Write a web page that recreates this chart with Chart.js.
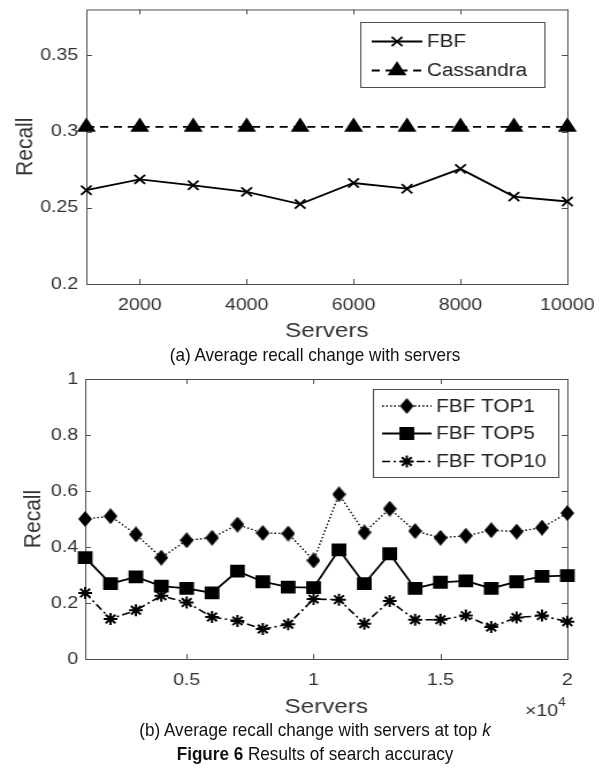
<!DOCTYPE html>
<html>
<head>
<meta charset="utf-8">
<script src="https://cdn.jsdelivr.net/npm/chart.js@4.4.0/dist/chart.umd.min.js"></script>
<style>
  html, body { margin: 0; padding: 0; background: #fff; }
  body { width: 603px; height: 769px; position: relative; overflow: hidden; font-family: 'Liberation Sans', Arial, sans-serif; color: #111; }
  /* the source figure is stretched horizontally */
  .wrap { position: absolute; left: 0; transform: scaleX(1.1508); transform-origin: 0 0; }
  .cap { position: absolute; left: 0; width: 630px; text-align: center; font-size: 19px; white-space: nowrap; line-height: 22px;
         transform: scaleX(0.9); transform-origin: 315px 0; }
</style>
</head>
<body>
<div class="wrap" style="top:0"><canvas id="chartA" width="524" height="345"></canvas></div>
<div class="cap" style="top:344px">(a) Average recall change with servers</div>
<div class="wrap" style="top:365px"><canvas id="chartB" width="524" height="355"></canvas></div>
<div class="cap" style="top:719px">(b) Average recall change with servers at top <i>k</i></div>
<div class="cap" style="top:743px"><b>Figure 6</b> Results of search accuracy</div>
<script>
// (a) recall vs servers
const serversA = [1000, 2000, 3000, 4000, 5000, 6000, 7000, 8000, 9000, 10000];
const fbfRecall = [0.2615, 0.2686, 0.2647, 0.2604, 0.2524, 0.2662, 0.2625, 0.2755, 0.2573, 0.2541];
const cassandraRecall = [0.303, 0.303, 0.303, 0.303, 0.303, 0.303, 0.303, 0.303, 0.303, 0.303];
const xTicksA = [2000, 4000, 6000, 8000, 10000];
const yTicksA = [0.2, 0.25, 0.3, 0.35];

// (b) recall vs servers at top k
const serversB = [1000, 2000, 3000, 4000, 5000, 6000, 7000, 8000, 9000, 10000,
                  11000, 12000, 13000, 14000, 15000, 16000, 17000, 18000, 19000, 20000];
const top1 = [0.500, 0.510, 0.445, 0.362, 0.424, 0.433, 0.480, 0.450, 0.448, 0.352,
              0.588, 0.452, 0.537, 0.457, 0.433, 0.440, 0.460, 0.455, 0.469, 0.521];
const top5 = [0.362, 0.269, 0.293, 0.260, 0.252, 0.236, 0.314, 0.276, 0.257, 0.255,
              0.390, 0.269, 0.376, 0.252, 0.274, 0.279, 0.252, 0.276, 0.295, 0.298];
const top10 = [0.236, 0.143, 0.174, 0.226, 0.202, 0.150, 0.136, 0.107, 0.124, 0.214,
               0.212, 0.126, 0.207, 0.140, 0.140, 0.155, 0.114, 0.148, 0.155, 0.133];
const xTicksB = [5000, 10000, 15000, 20000];
const xTickLabelsB = ['0.5', '1', '1.5', '2'];
const yTicksB = [0, 0.2, 0.4, 0.6, 0.8, 1];

const FONT = "'Liberation Sans', Arial, sans-serif";
const AXIS_GREY = '#4d4d4d';
const TEXT_GREY = '#333';

function pts(xs, ys) {
    return xs.map((x, i) => ({ x: x, y: ys[i] }));
}

// MATLAB-like narrow diamond marker
function diamondMarker(w, h) {
    const c = document.createElement('canvas');
    c.width = w; c.height = h;
    const g = c.getContext('2d');
    g.fillStyle = '#000';
    g.beginPath();
    g.moveTo(w / 2, 0); g.lineTo(w, h / 2); g.lineTo(w / 2, h); g.lineTo(0, h / 2);
    g.closePath();
    g.fill();
    return c;
}

// frame with inward ticks + boxed legend
const matlabBox = {
    id: 'matlabBox',
    beforeDatasetsDraw(chart) {
        const { ctx, chartArea: a, scales } = chart;
        const tl = 5;
        ctx.save();
        ctx.strokeStyle = AXIS_GREY;
        ctx.lineWidth = 1;
        ctx.strokeRect(a.left + 0.5, a.top + 0.5, a.right - a.left, a.bottom - a.top);
        ctx.beginPath();
        scales.x.ticks.forEach(t => {
            const px = Math.round(scales.x.getPixelForValue(t.value)) + 0.5;
            ctx.moveTo(px, a.bottom); ctx.lineTo(px, a.bottom - tl);
            ctx.moveTo(px, a.top); ctx.lineTo(px, a.top + tl);
        });
        scales.y.ticks.forEach(t => {
            const py = Math.round(scales.y.getPixelForValue(t.value)) + 0.5;
            ctx.moveTo(a.left, py); ctx.lineTo(a.left + tl, py);
            ctx.moveTo(a.right, py); ctx.lineTo(a.right - tl, py);
        });
        ctx.stroke();
        ctx.restore();
    },
    afterDatasetsDraw(chart, args, opts) {
        const { ctx } = chart;
        const b = opts.box;
        if (!b) return;
        ctx.save();
        ctx.fillStyle = '#fff';
        ctx.fillRect(b.x, b.y, b.w, b.h);
        ctx.strokeStyle = AXIS_GREY;
        ctx.lineWidth = 1;
        ctx.strokeRect(b.x + 0.5, b.y + 0.5, b.w, b.h);
        chart.data.datasets.forEach((ds, i) => {
            const y = b.rows[i];
            ctx.strokeStyle = ds.borderColor;
            ctx.fillStyle = ds.pointBackgroundColor;
            ctx.lineWidth = ds.borderWidth;
            ctx.setLineDash(ds.borderDash || []);
            ctx.beginPath();
            ctx.moveTo(b.line0, y);
            ctx.lineTo(b.line1, y);
            ctx.stroke();
            ctx.setLineDash([]);
            if (Chart.helpers && Chart.helpers.drawPoint) {
                ctx.lineWidth = ds.pointBorderWidth;
                Chart.helpers.drawPoint(ctx, {
                    pointStyle: ds.pointStyle, radius: ds.pointRadius,
                    rotation: 0, borderWidth: ds.pointBorderWidth
                }, (b.line0 + b.line1) / 2, y);
            }
            ctx.fillStyle = '#222';
            ctx.font = '18px ' + FONT;
            ctx.textAlign = 'left';
            ctx.textBaseline = 'middle';
            ctx.fillText(ds.label, b.text, y + 1);
        });
        if (opts.exponent) {
            const e = opts.exponent;
            ctx.fillStyle = TEXT_GREY;
            ctx.font = '17px ' + FONT;
            ctx.textAlign = 'right';
            ctx.textBaseline = 'middle';
            ctx.fillText('\u00d710', e.x, e.y);
            ctx.font = '12px ' + FONT;
            ctx.textAlign = 'left';
            ctx.fillText('4', e.x, e.y - 8);
        }
        ctx.restore();
    }
};

function lineSet(label, data, style, radius, dash, width, pbw) {
    return {
        label: label,
        data: data,
        borderColor: '#000',
        backgroundColor: '#000',
        pointBackgroundColor: '#000',
        pointBorderColor: '#000',
        pointStyle: style,
        pointRadius: radius,
        pointBorderWidth: pbw,
        borderWidth: width,
        borderDash: dash,
        tension: 0,
        clip: false
    };
}

function axes(cfg) {
    return {
        x: {
            type: 'linear', min: cfg.xMin, max: cfg.xMax,
            grid: { display: false, drawTicks: false },
            border: { display: false },
            afterBuildTicks: s => { s.ticks = cfg.xTicks.map(v => ({ value: v })); },
            afterFit: s => { s.height = cfg.xHeight; s.paddingLeft = 0; s.paddingRight = 0; },
            ticks: {
                padding: 11, color: TEXT_GREY, maxRotation: 0, autoSkip: false,
                font: { family: FONT, size: 17 },
                callback: cfg.xLabel
            },
            title: {
                display: true, text: 'Servers', color: TEXT_GREY,
                font: { family: FONT, size: 21 }, padding: { top: 0, bottom: cfg.xTitlePad }
            }
        },
        y: {
            min: cfg.yMin, max: cfg.yMax,
            grid: { display: false, drawTicks: false },
            border: { display: false },
            afterBuildTicks: s => { s.ticks = cfg.yTicks.map(v => ({ value: v })); },
            afterFit: s => { s.width = cfg.yWidth; s.paddingTop = 0; s.paddingBottom = 0; },
            ticks: {
                padding: cfg.yTickPad, color: TEXT_GREY,
                font: { family: FONT, size: 17 },
                callback: v => String(v)
            },
            title: {
                display: true, text: 'Recall', color: TEXT_GREY,
                font: { family: FONT, size: 21 }, padding: { top: cfg.yTitlePad, bottom: 0 }
            }
        }
    };
}

new Chart(document.getElementById('chartA'), {
    type: 'line',
    data: {
        datasets: [
            lineSet('FBF', pts(serversA, fbfRecall), 'crossRot', 6.5, [], 1.8, 1.8),
            lineSet('Cassandra', pts(serversA, cassandraRecall), 'triangle', 8, [7, 5], 1.8, 1.5)
        ]
    },
    options: {
        responsive: false,
        animation: false,
        layout: { padding: { top: 7, right: 31, bottom: 0, left: 0 } },
        plugins: {
            legend: { display: false },
            tooltip: { enabled: false },
            matlabBox: {
                box: { x: 313, y: 22, w: 160, h: 65, rows: [41.5, 70.5], line0: 323, line1: 367, text: 371 }
            }
        },
        scales: axes({
            xMin: 1000, xMax: 10000, xTicks: xTicksA, xLabel: v => String(v), xHeight: 61, xTitlePad: 1,
            yMin: 0.2, yMax: 0.38, yTicks: yTicksA, yWidth: 75, yTickPad: 7, yTitlePad: 10
        })
    },
    plugins: [matlabBox]
});

new Chart(document.getElementById('chartB'), {
    type: 'line',
    data: {
        datasets: [
            lineSet('FBF TOP1', pts(serversB, top1), diamondMarker(12, 16), 7, [1.5, 2], 1.4, 1.5),
            lineSet('FBF TOP5', pts(serversB, top5), 'rect', 8, [], 1.8, 1.5),
            lineSet('FBF TOP10', pts(serversB, top10), 'star', 6, [7, 3, 2, 3], 1.6, 2)
        ]
    },
    options: {
        responsive: false,
        animation: false,
        layout: { padding: { top: 14, right: 31, bottom: 0, left: 0 } },
        plugins: {
            legend: { display: false },
            tooltip: { enabled: false },
            matlabBox: {
                box: { x: 324, y: 24, w: 161, h: 88, rows: [41, 68.5, 96.5], line0: 332, line1: 375, text: 379 },
                exponent: { x: 485, y: 346 }
            }
        },
        scales: axes({
            xMin: 1000, xMax: 20000, xTicks: xTicksB, xLabel: (v, i) => xTickLabelsB[i], xHeight: 61, xTitlePad: 0,
            yMin: 0, yMax: 1, yTicks: yTicksB, yWidth: 74, yTickPad: 6, yTitlePad: 17
        })
    },
    plugins: [matlabBox]
});
</script>
</body>
</html>
